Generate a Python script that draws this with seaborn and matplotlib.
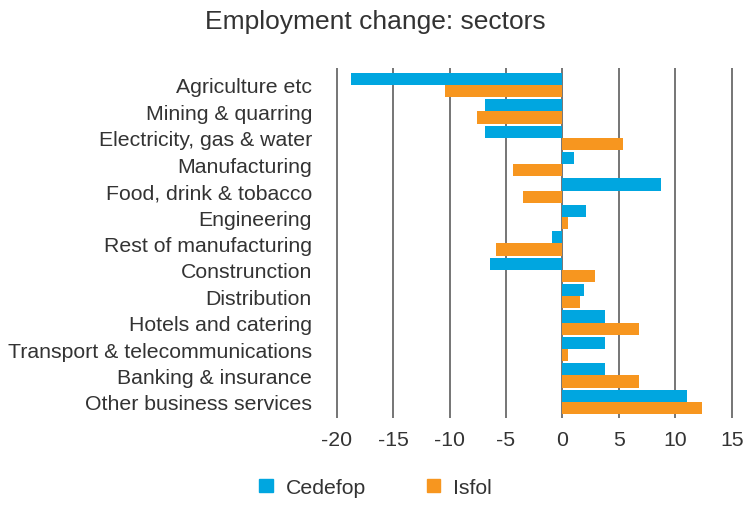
import matplotlib as mpl
mpl.use('agg')
import matplotlib.pyplot as plt
import pandas as pd
import seaborn as sns

# data
sectors = ['Agriculture etc', 'Mining & quarring', 'Electricity, gas & water',
           'Manufacturing', 'Food, drink & tobacco', 'Engineering',
           'Rest of manufacturing', 'Construnction', 'Distribution',
           'Hotels and catering', 'Transport & telecommunications',
           'Banking & insurance', 'Other business services']
cedefop = [-18.7, -6.9, -6.9, 1.0, 8.7, 2.1, -0.9, -6.4, 1.9, 3.8, 3.8, 3.8, 11.0]
isfol = [-10.4, -7.6, 5.4, -4.4, -3.5, 0.5, -5.9, 2.9, 1.6, 6.8, 0.5, 6.8, 12.4]
series = ['Cedefop', 'Isfol']
colors = ['#00a6e0', '#f7961f']

df = pd.DataFrame({
    'sector': sectors * 2,
    'value': cedefop + isfol,
    'source': [series[0]] * len(sectors) + [series[1]] * len(sectors),
})

sns.set_style('white')
plt.rcParams['font.family'] = ['Liberation Sans', 'DejaVu Sans']
plt.rcParams['axes.unicode_minus'] = False

fig = plt.figure(figsize=(7.44, 5.06), dpi=100)
ax = fig.add_axes([0.451, 0.172, 0.534, 0.692])

sns.barplot(data=df, y='sector', x='value', hue='source', order=sectors,
            hue_order=series, palette=colors, orient='h', width=0.92,
            saturation=1, linewidth=0, ax=ax, zorder=2)

# gridlines
for x in range(-20, 16, 5):
    ax.axvline(x, color='#505050', linewidth=1.1, zorder=1)

ax.set_xlim(-20.1, 15.1)
ax.set_ylim(12.61, -0.65)
ax.set_xticks(range(-20, 16, 5))
ax.set_xlabel('')
ax.set_ylabel('')
for s in ax.spines.values():
    s.set_visible(False)
ax.tick_params(axis='both', length=0, labelsize=15.3, labelcolor='#333333')
ax.tick_params(axis='y', pad=17)
ax.tick_params(axis='x', pad=9)

fig.suptitle('Employment change: sectors', x=0.505, y=0.98, fontsize=19,
             color='#333333')

ax.legend_.remove()
handles = [mpl.patches.Patch(color=c, label=l) for c, l in zip(colors, series)]
fig.legend(handles=handles, loc='lower center', bbox_to_anchor=(0.505, -0.022),
           ncol=2, frameon=False, fontsize=15.3, handlelength=0.62, handleheight=0.62,
           columnspacing=2.9, handletextpad=0.6, labelcolor='#333333')

plt.savefig('out.png', dpi=100)
